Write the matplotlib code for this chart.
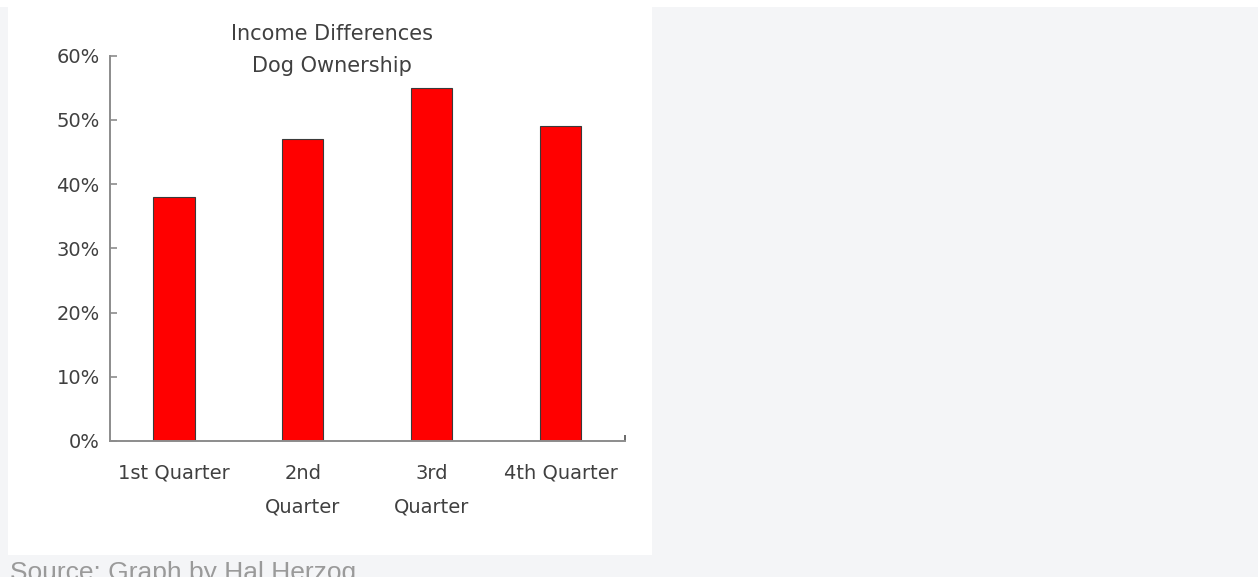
import matplotlib.pyplot as plt
from matplotlib.patches import Rectangle
from matplotlib.ticker import FixedLocator

# data
quarters = ["1st Quarter", "2nd\nQuarter", "3rd\nQuarter", "4th Quarter"]
dog_share = [0.38, 0.47, 0.55, 0.49]
y_ticks = [0.0, 0.1, 0.2, 0.3, 0.4, 0.5, 0.6]
title_lines = ["Income Differences", "Dog Ownership"]
source_text = "Source: Graph by Hal Herzog"

W, H = 1258, 577
plt.rcParams['font.family'] = ['DejaVu Sans']

fig = plt.figure(figsize=(W / 100, H / 100), dpi=100)
fig.patch.set_facecolor("white")

# pixel box -> figure fraction
def box(x0, y0, x1, y1):
    return (x0 / W, 1 - y1 / H, (x1 - x0) / W, (y1 - y0) / H)

bx, by, bw, bh = box(0, 7, W, H)
fig.patches.append(Rectangle((bx, by), bw, bh, transform=fig.transFigure,
                             facecolor="#f4f5f7", edgecolor="none", zorder=0))
bx, by, bw, bh = box(8, 7, 652, 555)
fig.patches.append(Rectangle((bx, by), bw, bh, transform=fig.transFigure,
                             facecolor="white", edgecolor="none", zorder=0.5))

ax = fig.add_axes(box(109.5, 55.7, 625, 441))
ax.set_zorder(2)
ax.set_facecolor("none")

x = list(range(len(quarters)))
ax.bar(x, dog_share, width=0.32, color="#ff0000", edgecolor="#3a3a3a",
       linewidth=0.8, zorder=2)

ax.set_xlim(-0.5, 3.5)
ax.set_ylim(0, 0.6)
ax.set_yticks(y_ticks)
ax.set_yticklabels([f"{int(round(v * 100))}%" for v in y_ticks])

# ticks sit at bar centres plus one at the right end of the axis
ax.xaxis.set_major_locator(FixedLocator(x + [3.5]))
ax.set_xticklabels(quarters + [""])

axis_col = "#8c8c8c"
for side in ["top", "right"]:
    ax.spines[side].set_visible(False)
for side in ["left", "bottom"]:
    ax.spines[side].set_color(axis_col)
    ax.spines[side].set_linewidth(1.4)

ax.tick_params(axis="y", direction="in", length=5, width=1.2, color=axis_col,
               pad=7, labelsize=14, labelcolor="#404040")
ax.tick_params(axis="x", direction="in", length=4, width=1.2, color="#505050",
               pad=16.5, labelsize=14, labelcolor="#404040")
for lbl in ax.get_xticklabels():
    lbl.set_linespacing(1.95)

fig.text(332 / W, 1 - 40 / H, title_lines[0], ha="center", va="baseline",
         fontsize=15, color="#404040")
fig.text(332 / W, 1 - 72 / H, title_lines[1], ha="center", va="baseline",
         fontsize=15, color="#404040")

# the caption runs off the bottom edge, as in the source image
fig.text(10 / W, 1 - 580 / H, source_text, ha="left", va="baseline",
         fontsize=19, color="#9a9a9a", family=["Liberation Sans", "DejaVu Sans"])

fig.savefig("out.png", dpi=100)
